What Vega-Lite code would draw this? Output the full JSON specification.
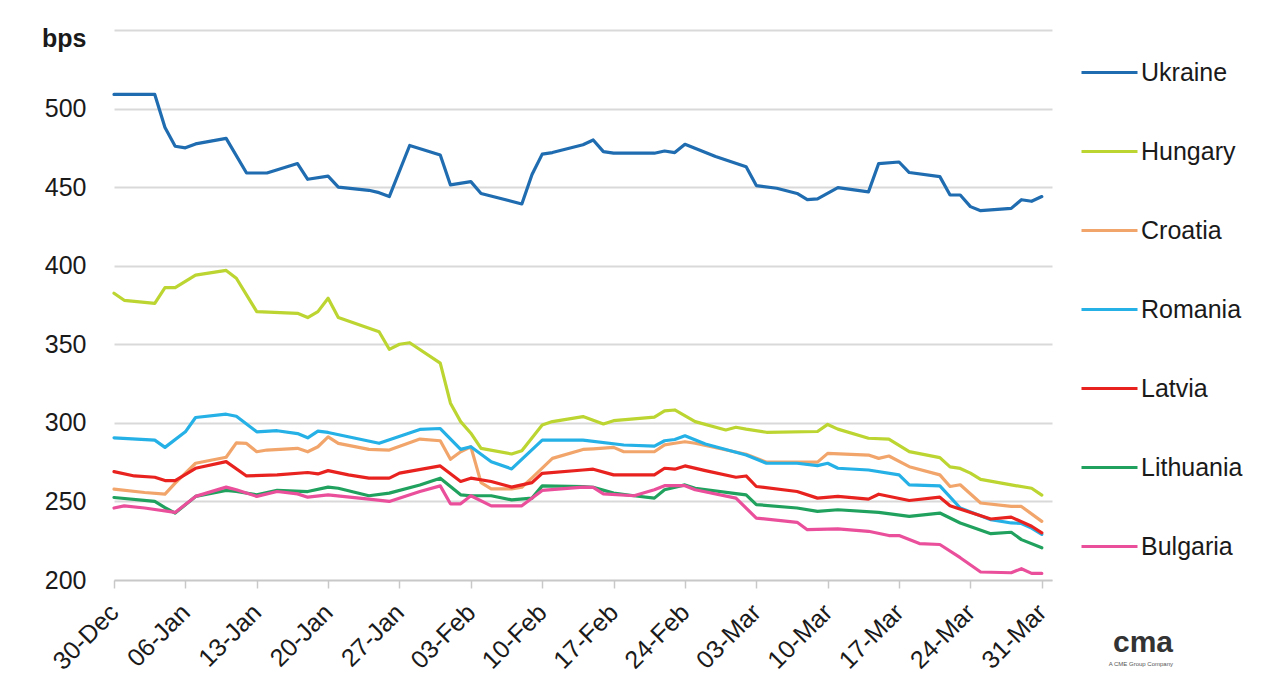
{
  "$schema": "https://vega.github.io/schema/vega-lite/v6.json",
  "width": 938,
  "height": 550,
  "autosize": "none",
  "padding": {"left": 114, "top": 30, "right": 222, "bottom": 115},
  "background": "white",
  "title": {
    "text": "cma",
    "subtitle": "A CME Group Company",
    "orient": "bottom",
    "anchor": "end",
    "frame": "bounds",
    "font": "Liberation Sans",
    "fontSize": 30,
    "fontWeight": "bold",
    "color": "#333333",
    "subtitleFont": "Liberation Sans",
    "subtitleFontSize": 6,
    "subtitleColor": "#555555",
    "offset": -46,
    "dx": -70
  },
  "data": {
    "values": [
      {"date": "2013-12-30", "country": "Ukraine", "bps": 509},
      {"date": "2014-01-03", "country": "Ukraine", "bps": 509},
      {"date": "2014-01-04", "country": "Ukraine", "bps": 488},
      {"date": "2014-01-05", "country": "Ukraine", "bps": 476},
      {"date": "2014-01-06", "country": "Ukraine", "bps": 475},
      {"date": "2014-01-07", "country": "Ukraine", "bps": 477.5},
      {"date": "2014-01-10", "country": "Ukraine", "bps": 481},
      {"date": "2014-01-12", "country": "Ukraine", "bps": 459},
      {"date": "2014-01-14", "country": "Ukraine", "bps": 459},
      {"date": "2014-01-17", "country": "Ukraine", "bps": 465},
      {"date": "2014-01-18", "country": "Ukraine", "bps": 455},
      {"date": "2014-01-20", "country": "Ukraine", "bps": 457},
      {"date": "2014-01-21", "country": "Ukraine", "bps": 450},
      {"date": "2014-01-24", "country": "Ukraine", "bps": 448},
      {"date": "2014-01-25", "country": "Ukraine", "bps": 446.5},
      {"date": "2014-01-26", "country": "Ukraine", "bps": 444},
      {"date": "2014-01-28", "country": "Ukraine", "bps": 476.5},
      {"date": "2014-01-31", "country": "Ukraine", "bps": 470.5},
      {"date": "2014-02-01", "country": "Ukraine", "bps": 451.4},
      {"date": "2014-02-03", "country": "Ukraine", "bps": 453.5},
      {"date": "2014-02-04", "country": "Ukraine", "bps": 446},
      {"date": "2014-02-08", "country": "Ukraine", "bps": 439.3},
      {"date": "2014-02-09", "country": "Ukraine", "bps": 458},
      {"date": "2014-02-10", "country": "Ukraine", "bps": 471},
      {"date": "2014-02-11", "country": "Ukraine", "bps": 472},
      {"date": "2014-02-14", "country": "Ukraine", "bps": 477},
      {"date": "2014-02-15", "country": "Ukraine", "bps": 480},
      {"date": "2014-02-16", "country": "Ukraine", "bps": 472.6},
      {"date": "2014-02-17", "country": "Ukraine", "bps": 471.6},
      {"date": "2014-02-21", "country": "Ukraine", "bps": 471.6},
      {"date": "2014-02-22", "country": "Ukraine", "bps": 473},
      {"date": "2014-02-23", "country": "Ukraine", "bps": 472},
      {"date": "2014-02-24", "country": "Ukraine", "bps": 477.3},
      {"date": "2014-02-27", "country": "Ukraine", "bps": 469.5},
      {"date": "2014-03-02", "country": "Ukraine", "bps": 463},
      {"date": "2014-03-03", "country": "Ukraine", "bps": 451},
      {"date": "2014-03-05", "country": "Ukraine", "bps": 449.3},
      {"date": "2014-03-07", "country": "Ukraine", "bps": 446},
      {"date": "2014-03-08", "country": "Ukraine", "bps": 442},
      {"date": "2014-03-09", "country": "Ukraine", "bps": 442.5},
      {"date": "2014-03-11", "country": "Ukraine", "bps": 449.7},
      {"date": "2014-03-14", "country": "Ukraine", "bps": 447},
      {"date": "2014-03-15", "country": "Ukraine", "bps": 465},
      {"date": "2014-03-17", "country": "Ukraine", "bps": 466},
      {"date": "2014-03-18", "country": "Ukraine", "bps": 459.3},
      {"date": "2014-03-21", "country": "Ukraine", "bps": 456.7},
      {"date": "2014-03-22", "country": "Ukraine", "bps": 445},
      {"date": "2014-03-23", "country": "Ukraine", "bps": 445},
      {"date": "2014-03-24", "country": "Ukraine", "bps": 437.6},
      {"date": "2014-03-25", "country": "Ukraine", "bps": 435},
      {"date": "2014-03-28", "country": "Ukraine", "bps": 436.5},
      {"date": "2014-03-29", "country": "Ukraine", "bps": 442},
      {"date": "2014-03-30", "country": "Ukraine", "bps": 441},
      {"date": "2014-03-31", "country": "Ukraine", "bps": 444},

      {"date": "2013-12-30", "country": "Hungary", "bps": 382.5},
      {"date": "2013-12-31", "country": "Hungary", "bps": 378},
      {"date": "2014-01-03", "country": "Hungary", "bps": 376},
      {"date": "2014-01-04", "country": "Hungary", "bps": 386},
      {"date": "2014-01-05", "country": "Hungary", "bps": 386},
      {"date": "2014-01-06", "country": "Hungary", "bps": 390},
      {"date": "2014-01-07", "country": "Hungary", "bps": 394},
      {"date": "2014-01-10", "country": "Hungary", "bps": 397},
      {"date": "2014-01-11", "country": "Hungary", "bps": 392},
      {"date": "2014-01-13", "country": "Hungary", "bps": 370.8},
      {"date": "2014-01-17", "country": "Hungary", "bps": 369.7},
      {"date": "2014-01-18", "country": "Hungary", "bps": 367},
      {"date": "2014-01-19", "country": "Hungary", "bps": 370.8},
      {"date": "2014-01-20", "country": "Hungary", "bps": 379.3},
      {"date": "2014-01-21", "country": "Hungary", "bps": 367},
      {"date": "2014-01-25", "country": "Hungary", "bps": 358},
      {"date": "2014-01-26", "country": "Hungary", "bps": 346.8},
      {"date": "2014-01-27", "country": "Hungary", "bps": 350},
      {"date": "2014-01-28", "country": "Hungary", "bps": 351},
      {"date": "2014-01-31", "country": "Hungary", "bps": 338},
      {"date": "2014-02-01", "country": "Hungary", "bps": 312.5},
      {"date": "2014-02-02", "country": "Hungary", "bps": 300.8},
      {"date": "2014-02-03", "country": "Hungary", "bps": 293.4},
      {"date": "2014-02-04", "country": "Hungary", "bps": 283.8},
      {"date": "2014-02-07", "country": "Hungary", "bps": 280.2},
      {"date": "2014-02-08", "country": "Hungary", "bps": 282.3},
      {"date": "2014-02-10", "country": "Hungary", "bps": 298.7},
      {"date": "2014-02-11", "country": "Hungary", "bps": 300.8},
      {"date": "2014-02-14", "country": "Hungary", "bps": 304},
      {"date": "2014-02-16", "country": "Hungary", "bps": 299.3},
      {"date": "2014-02-17", "country": "Hungary", "bps": 301.4},
      {"date": "2014-02-21", "country": "Hungary", "bps": 303.6},
      {"date": "2014-02-22", "country": "Hungary", "bps": 307.6},
      {"date": "2014-02-23", "country": "Hungary", "bps": 308.2},
      {"date": "2014-02-25", "country": "Hungary", "bps": 300.8},
      {"date": "2014-02-28", "country": "Hungary", "bps": 295.5},
      {"date": "2014-03-01", "country": "Hungary", "bps": 297.2},
      {"date": "2014-03-02", "country": "Hungary", "bps": 296},
      {"date": "2014-03-04", "country": "Hungary", "bps": 294},
      {"date": "2014-03-09", "country": "Hungary", "bps": 294.5},
      {"date": "2014-03-10", "country": "Hungary", "bps": 299},
      {"date": "2014-03-11", "country": "Hungary", "bps": 296},
      {"date": "2014-03-14", "country": "Hungary", "bps": 290.2},
      {"date": "2014-03-16", "country": "Hungary", "bps": 289.6},
      {"date": "2014-03-18", "country": "Hungary", "bps": 281.7},
      {"date": "2014-03-21", "country": "Hungary", "bps": 277.9},
      {"date": "2014-03-22", "country": "Hungary", "bps": 272},
      {"date": "2014-03-23", "country": "Hungary", "bps": 271},
      {"date": "2014-03-24", "country": "Hungary", "bps": 268},
      {"date": "2014-03-25", "country": "Hungary", "bps": 264},
      {"date": "2014-03-28", "country": "Hungary", "bps": 260.5},
      {"date": "2014-03-30", "country": "Hungary", "bps": 258.4},
      {"date": "2014-03-31", "country": "Hungary", "bps": 254},

      {"date": "2013-12-30", "country": "Croatia", "bps": 257.8},
      {"date": "2014-01-02", "country": "Croatia", "bps": 255.7},
      {"date": "2014-01-04", "country": "Croatia", "bps": 254.6},
      {"date": "2014-01-05", "country": "Croatia", "bps": 261.6},
      {"date": "2014-01-07", "country": "Croatia", "bps": 274.3},
      {"date": "2014-01-10", "country": "Croatia", "bps": 278.1},
      {"date": "2014-01-11", "country": "Croatia", "bps": 287.3},
      {"date": "2014-01-12", "country": "Croatia", "bps": 286.9},
      {"date": "2014-01-13", "country": "Croatia", "bps": 281.6},
      {"date": "2014-01-14", "country": "Croatia", "bps": 282.7},
      {"date": "2014-01-17", "country": "Croatia", "bps": 283.8},
      {"date": "2014-01-18", "country": "Croatia", "bps": 281.6},
      {"date": "2014-01-19", "country": "Croatia", "bps": 284.8},
      {"date": "2014-01-20", "country": "Croatia", "bps": 291.1},
      {"date": "2014-01-21", "country": "Croatia", "bps": 286.9},
      {"date": "2014-01-24", "country": "Croatia", "bps": 283.1},
      {"date": "2014-01-26", "country": "Croatia", "bps": 282.7},
      {"date": "2014-01-29", "country": "Croatia", "bps": 289.7},
      {"date": "2014-01-31", "country": "Croatia", "bps": 288.6},
      {"date": "2014-02-01", "country": "Croatia", "bps": 276.8},
      {"date": "2014-02-02", "country": "Croatia", "bps": 281.6},
      {"date": "2014-02-03", "country": "Croatia", "bps": 284.8},
      {"date": "2014-02-04", "country": "Croatia", "bps": 262},
      {"date": "2014-02-05", "country": "Croatia", "bps": 258},
      {"date": "2014-02-07", "country": "Croatia", "bps": 258},
      {"date": "2014-02-08", "country": "Croatia", "bps": 259},
      {"date": "2014-02-09", "country": "Croatia", "bps": 265},
      {"date": "2014-02-11", "country": "Croatia", "bps": 277.4},
      {"date": "2014-02-14", "country": "Croatia", "bps": 283.1},
      {"date": "2014-02-15", "country": "Croatia", "bps": 283.5},
      {"date": "2014-02-17", "country": "Croatia", "bps": 284.4},
      {"date": "2014-02-18", "country": "Croatia", "bps": 281.6},
      {"date": "2014-02-21", "country": "Croatia", "bps": 281.6},
      {"date": "2014-02-22", "country": "Croatia", "bps": 286},
      {"date": "2014-02-23", "country": "Croatia", "bps": 287},
      {"date": "2014-02-24", "country": "Croatia", "bps": 288},
      {"date": "2014-02-25", "country": "Croatia", "bps": 287},
      {"date": "2014-03-02", "country": "Croatia", "bps": 280},
      {"date": "2014-03-04", "country": "Croatia", "bps": 275},
      {"date": "2014-03-07", "country": "Croatia", "bps": 275},
      {"date": "2014-03-09", "country": "Croatia", "bps": 275},
      {"date": "2014-03-10", "country": "Croatia", "bps": 280.6},
      {"date": "2014-03-14", "country": "Croatia", "bps": 279.5},
      {"date": "2014-03-15", "country": "Croatia", "bps": 277.4},
      {"date": "2014-03-16", "country": "Croatia", "bps": 278.9},
      {"date": "2014-03-18", "country": "Croatia", "bps": 272.1},
      {"date": "2014-03-21", "country": "Croatia", "bps": 266.9},
      {"date": "2014-03-22", "country": "Croatia", "bps": 259.5},
      {"date": "2014-03-23", "country": "Croatia", "bps": 260.6},
      {"date": "2014-03-25", "country": "Croatia", "bps": 249},
      {"date": "2014-03-28", "country": "Croatia", "bps": 246.8},
      {"date": "2014-03-29", "country": "Croatia", "bps": 246.8},
      {"date": "2014-03-31", "country": "Croatia", "bps": 237.3},

      {"date": "2013-12-30", "country": "Romania", "bps": 290.5},
      {"date": "2014-01-03", "country": "Romania", "bps": 289},
      {"date": "2014-01-04", "country": "Romania", "bps": 284.4},
      {"date": "2014-01-06", "country": "Romania", "bps": 294.3},
      {"date": "2014-01-07", "country": "Romania", "bps": 303.4},
      {"date": "2014-01-10", "country": "Romania", "bps": 305.5},
      {"date": "2014-01-11", "country": "Romania", "bps": 304.2},
      {"date": "2014-01-13", "country": "Romania", "bps": 294.3},
      {"date": "2014-01-15", "country": "Romania", "bps": 295},
      {"date": "2014-01-17", "country": "Romania", "bps": 293.2},
      {"date": "2014-01-18", "country": "Romania", "bps": 290.5},
      {"date": "2014-01-19", "country": "Romania", "bps": 294.7},
      {"date": "2014-01-20", "country": "Romania", "bps": 293.9},
      {"date": "2014-01-25", "country": "Romania", "bps": 287},
      {"date": "2014-01-29", "country": "Romania", "bps": 295.8},
      {"date": "2014-01-31", "country": "Romania", "bps": 296.4},
      {"date": "2014-02-02", "country": "Romania", "bps": 283.1},
      {"date": "2014-02-03", "country": "Romania", "bps": 284.8},
      {"date": "2014-02-05", "country": "Romania", "bps": 275.3},
      {"date": "2014-02-07", "country": "Romania", "bps": 270.7},
      {"date": "2014-02-10", "country": "Romania", "bps": 289},
      {"date": "2014-02-14", "country": "Romania", "bps": 289},
      {"date": "2014-02-18", "country": "Romania", "bps": 285.9},
      {"date": "2014-02-21", "country": "Romania", "bps": 285.2},
      {"date": "2014-02-22", "country": "Romania", "bps": 288.6},
      {"date": "2014-02-23", "country": "Romania", "bps": 289.4},
      {"date": "2014-02-24", "country": "Romania", "bps": 291.8},
      {"date": "2014-02-26", "country": "Romania", "bps": 286.5},
      {"date": "2014-03-02", "country": "Romania", "bps": 279.5},
      {"date": "2014-03-04", "country": "Romania", "bps": 274.3},
      {"date": "2014-03-07", "country": "Romania", "bps": 274.3},
      {"date": "2014-03-09", "country": "Romania", "bps": 272.8},
      {"date": "2014-03-10", "country": "Romania", "bps": 274.3},
      {"date": "2014-03-11", "country": "Romania", "bps": 271.1},
      {"date": "2014-03-14", "country": "Romania", "bps": 270},
      {"date": "2014-03-17", "country": "Romania", "bps": 266.9},
      {"date": "2014-03-18", "country": "Romania", "bps": 260.5},
      {"date": "2014-03-21", "country": "Romania", "bps": 259.9},
      {"date": "2014-03-23", "country": "Romania", "bps": 245.8},
      {"date": "2014-03-26", "country": "Romania", "bps": 238.4},
      {"date": "2014-03-28", "country": "Romania", "bps": 236.3},
      {"date": "2014-03-29", "country": "Romania", "bps": 236},
      {"date": "2014-03-30", "country": "Romania", "bps": 233},
      {"date": "2014-03-31", "country": "Romania", "bps": 229},

      {"date": "2013-12-30", "country": "Latvia", "bps": 269},
      {"date": "2014-01-01", "country": "Latvia", "bps": 266.2},
      {"date": "2014-01-03", "country": "Latvia", "bps": 265.4},
      {"date": "2014-01-04", "country": "Latvia", "bps": 263.3},
      {"date": "2014-01-05", "country": "Latvia", "bps": 263.3},
      {"date": "2014-01-07", "country": "Latvia", "bps": 271.1},
      {"date": "2014-01-10", "country": "Latvia", "bps": 275.3},
      {"date": "2014-01-12", "country": "Latvia", "bps": 266.2},
      {"date": "2014-01-15", "country": "Latvia", "bps": 266.9},
      {"date": "2014-01-18", "country": "Latvia", "bps": 268.4},
      {"date": "2014-01-19", "country": "Latvia", "bps": 267.5},
      {"date": "2014-01-20", "country": "Latvia", "bps": 269.6},
      {"date": "2014-01-22", "country": "Latvia", "bps": 266.9},
      {"date": "2014-01-24", "country": "Latvia", "bps": 264.8},
      {"date": "2014-01-26", "country": "Latvia", "bps": 264.8},
      {"date": "2014-01-27", "country": "Latvia", "bps": 268},
      {"date": "2014-01-31", "country": "Latvia", "bps": 272.6},
      {"date": "2014-02-02", "country": "Latvia", "bps": 262.7},
      {"date": "2014-02-03", "country": "Latvia", "bps": 264.8},
      {"date": "2014-02-05", "country": "Latvia", "bps": 262.7},
      {"date": "2014-02-07", "country": "Latvia", "bps": 259.1},
      {"date": "2014-02-09", "country": "Latvia", "bps": 262},
      {"date": "2014-02-10", "country": "Latvia", "bps": 267.9},
      {"date": "2014-02-14", "country": "Latvia", "bps": 270},
      {"date": "2014-02-15", "country": "Latvia", "bps": 270.5},
      {"date": "2014-02-17", "country": "Latvia", "bps": 266.9},
      {"date": "2014-02-21", "country": "Latvia", "bps": 266.9},
      {"date": "2014-02-22", "country": "Latvia", "bps": 271.1},
      {"date": "2014-02-23", "country": "Latvia", "bps": 270.5},
      {"date": "2014-02-24", "country": "Latvia", "bps": 272.6},
      {"date": "2014-02-26", "country": "Latvia", "bps": 269.6},
      {"date": "2014-03-01", "country": "Latvia", "bps": 265.4},
      {"date": "2014-03-02", "country": "Latvia", "bps": 266.2},
      {"date": "2014-03-03", "country": "Latvia", "bps": 259.5},
      {"date": "2014-03-07", "country": "Latvia", "bps": 256.3},
      {"date": "2014-03-09", "country": "Latvia", "bps": 252.1},
      {"date": "2014-03-11", "country": "Latvia", "bps": 253.2},
      {"date": "2014-03-14", "country": "Latvia", "bps": 251.5},
      {"date": "2014-03-15", "country": "Latvia", "bps": 254.6},
      {"date": "2014-03-18", "country": "Latvia", "bps": 250.6},
      {"date": "2014-03-21", "country": "Latvia", "bps": 252.7},
      {"date": "2014-03-22", "country": "Latvia", "bps": 247.2},
      {"date": "2014-03-26", "country": "Latvia", "bps": 238.8},
      {"date": "2014-03-28", "country": "Latvia", "bps": 240},
      {"date": "2014-03-30", "country": "Latvia", "bps": 234.2},
      {"date": "2014-03-31", "country": "Latvia", "bps": 230},

      {"date": "2013-12-30", "country": "Lithuania", "bps": 252.5},
      {"date": "2014-01-03", "country": "Lithuania", "bps": 250},
      {"date": "2014-01-04", "country": "Lithuania", "bps": 246},
      {"date": "2014-01-05", "country": "Lithuania", "bps": 242.6},
      {"date": "2014-01-07", "country": "Lithuania", "bps": 253.2},
      {"date": "2014-01-10", "country": "Lithuania", "bps": 257},
      {"date": "2014-01-11", "country": "Lithuania", "bps": 256.3},
      {"date": "2014-01-13", "country": "Lithuania", "bps": 254.2},
      {"date": "2014-01-15", "country": "Lithuania", "bps": 257},
      {"date": "2014-01-18", "country": "Lithuania", "bps": 256.3},
      {"date": "2014-01-20", "country": "Lithuania", "bps": 259.1},
      {"date": "2014-01-21", "country": "Lithuania", "bps": 258.4},
      {"date": "2014-01-24", "country": "Lithuania", "bps": 253.6},
      {"date": "2014-01-26", "country": "Lithuania", "bps": 255.3},
      {"date": "2014-01-29", "country": "Lithuania", "bps": 260.5},
      {"date": "2014-01-31", "country": "Lithuania", "bps": 264.8},
      {"date": "2014-02-02", "country": "Lithuania", "bps": 254.2},
      {"date": "2014-02-03", "country": "Lithuania", "bps": 253.6},
      {"date": "2014-02-05", "country": "Lithuania", "bps": 253.6},
      {"date": "2014-02-07", "country": "Lithuania", "bps": 251},
      {"date": "2014-02-09", "country": "Lithuania", "bps": 252.1},
      {"date": "2014-02-10", "country": "Lithuania", "bps": 259.9},
      {"date": "2014-02-14", "country": "Lithuania", "bps": 259.5},
      {"date": "2014-02-15", "country": "Lithuania", "bps": 259},
      {"date": "2014-02-17", "country": "Lithuania", "bps": 255.3},
      {"date": "2014-02-19", "country": "Lithuania", "bps": 253.6},
      {"date": "2014-02-21", "country": "Lithuania", "bps": 252.1},
      {"date": "2014-02-22", "country": "Lithuania", "bps": 257.4},
      {"date": "2014-02-24", "country": "Lithuania", "bps": 260.5},
      {"date": "2014-02-25", "country": "Lithuania", "bps": 258.4},
      {"date": "2014-03-01", "country": "Lithuania", "bps": 255},
      {"date": "2014-03-02", "country": "Lithuania", "bps": 254.2},
      {"date": "2014-03-03", "country": "Lithuania", "bps": 248},
      {"date": "2014-03-07", "country": "Lithuania", "bps": 245.8},
      {"date": "2014-03-09", "country": "Lithuania", "bps": 243.7},
      {"date": "2014-03-11", "country": "Lithuania", "bps": 244.7},
      {"date": "2014-03-15", "country": "Lithuania", "bps": 243},
      {"date": "2014-03-18", "country": "Lithuania", "bps": 240.5},
      {"date": "2014-03-21", "country": "Lithuania", "bps": 242.6},
      {"date": "2014-03-23", "country": "Lithuania", "bps": 236.3},
      {"date": "2014-03-26", "country": "Lithuania", "bps": 229.5},
      {"date": "2014-03-28", "country": "Lithuania", "bps": 230.4},
      {"date": "2014-03-29", "country": "Lithuania", "bps": 225.7},
      {"date": "2014-03-31", "country": "Lithuania", "bps": 220.5},

      {"date": "2013-12-30", "country": "Bulgaria", "bps": 245.8},
      {"date": "2013-12-31", "country": "Bulgaria", "bps": 247.2},
      {"date": "2014-01-02", "country": "Bulgaria", "bps": 245.8},
      {"date": "2014-01-05", "country": "Bulgaria", "bps": 243},
      {"date": "2014-01-07", "country": "Bulgaria", "bps": 253.2},
      {"date": "2014-01-10", "country": "Bulgaria", "bps": 259.1},
      {"date": "2014-01-11", "country": "Bulgaria", "bps": 257.4},
      {"date": "2014-01-13", "country": "Bulgaria", "bps": 253.2},
      {"date": "2014-01-15", "country": "Bulgaria", "bps": 256.3},
      {"date": "2014-01-17", "country": "Bulgaria", "bps": 254.8},
      {"date": "2014-01-18", "country": "Bulgaria", "bps": 252.7},
      {"date": "2014-01-20", "country": "Bulgaria", "bps": 254.2},
      {"date": "2014-01-24", "country": "Bulgaria", "bps": 251.5},
      {"date": "2014-01-26", "country": "Bulgaria", "bps": 250},
      {"date": "2014-01-29", "country": "Bulgaria", "bps": 256.3},
      {"date": "2014-01-31", "country": "Bulgaria", "bps": 259.9},
      {"date": "2014-02-01", "country": "Bulgaria", "bps": 248.5},
      {"date": "2014-02-02", "country": "Bulgaria", "bps": 248.5},
      {"date": "2014-02-03", "country": "Bulgaria", "bps": 253.6},
      {"date": "2014-02-05", "country": "Bulgaria", "bps": 247.2},
      {"date": "2014-02-08", "country": "Bulgaria", "bps": 247.2},
      {"date": "2014-02-10", "country": "Bulgaria", "bps": 257},
      {"date": "2014-02-14", "country": "Bulgaria", "bps": 259.1},
      {"date": "2014-02-15", "country": "Bulgaria", "bps": 259},
      {"date": "2014-02-16", "country": "Bulgaria", "bps": 254.8},
      {"date": "2014-02-19", "country": "Bulgaria", "bps": 253.6},
      {"date": "2014-02-21", "country": "Bulgaria", "bps": 257.4},
      {"date": "2014-02-22", "country": "Bulgaria", "bps": 260},
      {"date": "2014-02-24", "country": "Bulgaria", "bps": 260},
      {"date": "2014-02-25", "country": "Bulgaria", "bps": 257.4},
      {"date": "2014-03-01", "country": "Bulgaria", "bps": 252.1},
      {"date": "2014-03-03", "country": "Bulgaria", "bps": 239.4},
      {"date": "2014-03-07", "country": "Bulgaria", "bps": 236.7},
      {"date": "2014-03-08", "country": "Bulgaria", "bps": 232},
      {"date": "2014-03-11", "country": "Bulgaria", "bps": 232.5},
      {"date": "2014-03-14", "country": "Bulgaria", "bps": 231},
      {"date": "2014-03-16", "country": "Bulgaria", "bps": 228.3},
      {"date": "2014-03-17", "country": "Bulgaria", "bps": 228.3},
      {"date": "2014-03-19", "country": "Bulgaria", "bps": 223.2},
      {"date": "2014-03-21", "country": "Bulgaria", "bps": 222.6},
      {"date": "2014-03-23", "country": "Bulgaria", "bps": 214.2},
      {"date": "2014-03-25", "country": "Bulgaria", "bps": 205.1},
      {"date": "2014-03-28", "country": "Bulgaria", "bps": 204.6},
      {"date": "2014-03-29", "country": "Bulgaria", "bps": 207.2},
      {"date": "2014-03-30", "country": "Bulgaria", "bps": 204.2},
      {"date": "2014-03-31", "country": "Bulgaria", "bps": 204.2}
    ]
  },
  "mark": {"type": "line", "strokeWidth": 3.2, "strokeJoin": "round", "strokeCap": "round"},
  "encoding": {
    "x": {
      "field": "date",
      "type": "temporal",
      "scale": {
        "type": "utc",
        "domain": [
          {"year": 2013, "month": 12, "date": 30, "utc": true},
          {"year": 2014, "month": 4, "date": 1, "utc": true}
        ]
      },
      "axis": {
        "title": null,
        "values": [
          {"year": 2013, "month": 12, "date": 30, "utc": true},
          {"year": 2014, "month": 1, "date": 6, "utc": true},
          {"year": 2014, "month": 1, "date": 13, "utc": true},
          {"year": 2014, "month": 1, "date": 20, "utc": true},
          {"year": 2014, "month": 1, "date": 27, "utc": true},
          {"year": 2014, "month": 2, "date": 3, "utc": true},
          {"year": 2014, "month": 2, "date": 10, "utc": true},
          {"year": 2014, "month": 2, "date": 17, "utc": true},
          {"year": 2014, "month": 2, "date": 24, "utc": true},
          {"year": 2014, "month": 3, "date": 3, "utc": true},
          {"year": 2014, "month": 3, "date": 10, "utc": true},
          {"year": 2014, "month": 3, "date": 17, "utc": true},
          {"year": 2014, "month": 3, "date": 24, "utc": true},
          {"year": 2014, "month": 3, "date": 31, "utc": true}
        ],
        "labelExpr": "utcFormat(datum.value, '%d-%b')",
        "labelAngle": -45,
        "labelAlign": "right",
        "labelBaseline": "middle",
        "labelFont": "Liberation Sans",
        "labelFontSize": 25,
        "labelColor": "#1a1a1a",
        "labelPadding": 20,
        "labelOverlap": false,
        "labelFlush": false,
        "grid": false,
        "domainColor": "#c8c8c8",
        "domainWidth": 1.5,
        "ticks": true,
        "tickColor": "#c8c8c8",
        "tickWidth": 1.5,
        "tickSize": 8
      }
    },
    "y": {
      "field": "bps",
      "type": "quantitative",
      "scale": {"domain": [200, 550], "nice": false, "zero": false},
      "axis": {
        "title": null,
        "values": [200, 250, 300, 350, 400, 450, 500, 550],
        "labelExpr": "datum.value == 550 ? 'bps' : datum.label",
        "labelFont": "Liberation Sans",
        "labelFontSize": 25,
        "labelFontWeight": {"condition": {"test": "datum.value == 550", "value": "bold"}, "value": "normal"},
        "labelOffset": {"condition": {"test": "datum.value == 550", "value": 8}, "value": 0},
        "labelColor": "#1a1a1a",
        "labelPadding": 28,
        "domain": false,
        "ticks": false,
        "grid": true,
        "gridColor": "#d9d9d9",
        "gridWidth": 2
      }
    },
    "color": {
      "field": "country",
      "type": "nominal",
      "scale": {
        "domain": ["Ukraine", "Hungary", "Croatia", "Romania", "Latvia", "Lithuania", "Bulgaria"],
        "range": ["#1f6cb0", "#bcd531", "#f2a56a", "#25b0e6", "#e8231f", "#20a25e", "#ea4f9b"]
      },
      "legend": {
        "title": null,
        "orient": "none",
        "legendX": 966,
        "legendY": 13,
        "padding": 0,
        "symbolType": "stroke",
        "symbolSize": 3136,
        "symbolStrokeWidth": 3,
        "labelFont": "Liberation Sans",
        "labelFontSize": 25,
        "labelColor": "#1a1a1a",
        "labelOffset": 2,
        "rowPadding": 36,
        "labelLimit": 300
      }
    }
  },
  "config": {
    "view": {"stroke": null}
  }
}
